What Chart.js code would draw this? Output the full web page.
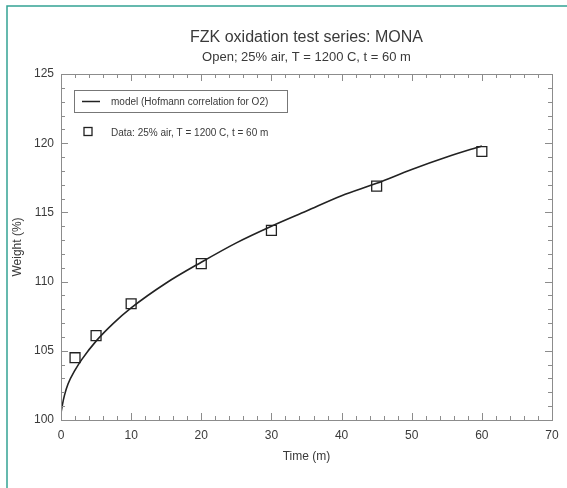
<!DOCTYPE html>
<html>
<head>
<meta charset="utf-8">
<script src="https://cdn.jsdelivr.net/npm/chart.js@4.4.0/dist/chart.umd.min.js"></script>
<style>
  html, body { margin: 0; padding: 0; background: #fff; }
  canvas { display: block; }
</style>
</head>
<body>
<canvas id="chart" width="567" height="488"></canvas>
<script>
// measured weight gain, 25% air at 1200 C
const dataTime = [2, 5, 10, 20, 30, 45, 60];
const dataWeight = [104.5, 106.1, 108.4, 111.3, 113.7, 116.9, 119.4];

// model curve (Hofmann correlation)
const modelTime = [0, 0.2, 0.5, 1, 2, 3, 5, 7.5, 10, 15, 20, 25, 30, 35, 40, 45, 50, 55, 60];
const modelWeight = [100.5, 101.1, 101.8, 102.6, 103.6, 104.4, 105.7, 107.0, 108.1, 109.9, 111.4, 112.8, 114.0, 115.1, 116.2, 117.1, 118.1, 119.0, 119.8];

const labels = ['model (Hofmann correlation for O2)', 'Data: 25% air, T = 1200 C, t = 60 m'];
const titleText = 'FZK oxidation test series: MONA';
const subtitleText = 'Open; 25% air, T = 1200 C, t = 60 m';

const FONT = 'Liberation Sans, Arial, sans-serif';
const INK = '#3a3a3a';
const AXIS = '#8c8c8c';

// plot frame, inward ticks on all four sides, teal page border, titles, legend
const framePlugin = {
  id: 'framePlugin',
  beforeDraw(chart) {
    const ctx = chart.ctx;
    ctx.save();
    ctx.strokeStyle = '#33a394';
    ctx.lineWidth = 1.5;
    ctx.beginPath();
    ctx.moveTo(7, 488);
    ctx.lineTo(7, 6);
    ctx.lineTo(567, 6);
    ctx.stroke();
    ctx.restore();
  },
  afterDatasetsDraw(chart) {
    const { ctx, chartArea: a, scales: { x, y } } = chart;
    ctx.save();
    ctx.strokeStyle = AXIS;
    ctx.lineWidth = 1;
    ctx.strokeRect(a.left + 0.5, a.top + 0.5, a.right - a.left, a.bottom - a.top);
    ctx.beginPath();
    for (let v = 0; v <= 70; v += 2) {
      const len = v % 10 === 0 ? 7 : 4;
      const px = Math.round(x.getPixelForValue(v)) + 0.5;
      ctx.moveTo(px, a.bottom); ctx.lineTo(px, a.bottom - len);
      ctx.moveTo(px, a.top); ctx.lineTo(px, a.top + len);
    }
    for (let v = 100; v <= 125; v += 1) {
      const len = v % 5 === 0 ? 7 : 4;
      const py = Math.round(y.getPixelForValue(v)) + 0.5;
      ctx.moveTo(a.left, py); ctx.lineTo(a.left + len, py);
      ctx.moveTo(a.right, py); ctx.lineTo(a.right - len, py);
    }
    ctx.stroke();

    // titles, centred over the plot
    const cx = (a.left + a.right) / 2;
    ctx.fillStyle = INK;
    ctx.textAlign = 'center';
    ctx.textBaseline = 'middle';
    ctx.font = '16px ' + FONT;
    ctx.fillText(titleText, cx, 38);
    ctx.font = '13px ' + FONT;
    ctx.fillText(subtitleText, cx, 57);

    // legend
    const m = chart.data.datasets[0];
    const d = chart.data.datasets[1];
    ctx.strokeStyle = '#777';
    ctx.strokeRect(74.5, 90.5, 213, 22);
    ctx.strokeStyle = m.borderColor;
    ctx.lineWidth = 1.5;
    ctx.beginPath();
    ctx.moveTo(82, 101.5); ctx.lineTo(100, 101.5);
    ctx.stroke();
    ctx.strokeStyle = d.borderColor;
    ctx.lineWidth = 1.3;
    ctx.strokeRect(84, 127.5, 8, 8);
    ctx.textAlign = 'left';
    ctx.font = '10px ' + FONT;
    ctx.fillText(m.label, 111, 102);
    ctx.fillText(d.label, 111, 133);
    ctx.restore();
  }
};

new Chart(document.getElementById('chart'), {
  type: 'scatter',
  data: {
    datasets: [
      {
        label: labels[0],
        data: modelTime.map((t, i) => ({ x: t, y: modelWeight[i] })),
        showLine: true,
        cubicInterpolationMode: 'monotone',
        borderColor: '#222',
        borderWidth: 1.6,
        pointRadius: 0
      },
      {
        label: labels[1],
        data: dataTime.map((t, i) => ({ x: t, y: dataWeight[i] })),
        showLine: false,
        pointStyle: 'rect',
        pointRadius: 7,
        pointBorderWidth: 1.3,
        borderColor: '#222',
        backgroundColor: 'rgba(0,0,0,0)'
      }
    ]
  },
  options: {
    responsive: false,
    animation: false,
    layout: { padding: { left: 0, top: 74, right: 15, bottom: 0 } },
    plugins: {
      legend: { display: false },
      tooltip: { enabled: false },
      title: { display: false }
    },
    scales: {
      x: {
        type: 'linear',
        min: 0,
        max: 70,
        grid: { display: false, drawTicks: false },
        border: { display: false },
        ticks: { stepSize: 10, color: INK, padding: 8, font: { family: FONT, size: 12 } },
        title: {
          display: true,
          text: 'Time (m)',
          color: INK,
          font: { family: FONT, size: 12 },
          padding: { top: 0, bottom: 23.8 }
        },
        afterFit(s) { s.height = 68; }
      },
      y: {
        min: 100,
        max: 125,
        grid: { display: false, drawTicks: false },
        border: { display: false },
        ticks: { stepSize: 5, color: INK, padding: 7, font: { family: FONT, size: 12 } },
        title: {
          display: true,
          text: 'Weight (%)',
          color: INK,
          font: { family: FONT, size: 12 },
          padding: { top: 10.8, bottom: 0 }
        },
        afterFit(s) { s.width = 61; }
      }
    }
  },
  plugins: [framePlugin]
});
</script>
</body>
</html>
